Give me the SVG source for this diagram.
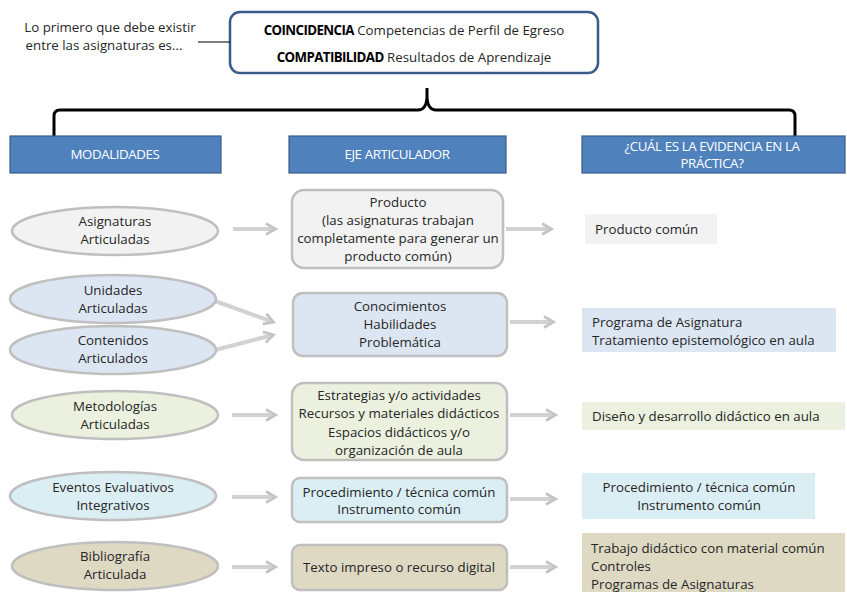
<svg xmlns="http://www.w3.org/2000/svg" width="847" height="592" viewBox="0 0 847 592">
<style>
text{font-family:"Open Sans","Liberation Sans",sans-serif;font-size:13.3px;fill:#262626}
.c{text-anchor:middle}
.h{fill:#4F81BD;stroke:#385D8A;stroke-width:1.2}
.ht{fill:#fff;font-size:13.3px;text-anchor:middle}
.e{stroke:#BFBFBF;stroke-width:2.5}
.b{stroke:#BFBFBF;stroke-width:2.5}
.g1{fill:#F2F2F2}.g2{fill:#DCE6F2}.g3{fill:#EBF1DE}.g4{fill:#DBEEF4}.g5{fill:#DDD9C3}
</style>
<defs>
<marker id="m" viewBox="0 0 12 12" refX="10" refY="6" markerWidth="12" markerHeight="12" markerUnits="userSpaceOnUse" orient="auto" overflow="visible">
<path d="M1,0.5 L10.5,6 L1,11.5" fill="none" stroke="#C4C4C4" stroke-width="2.8" stroke-linejoin="miter"/>
</marker>
</defs>
<g id="intro">
<text x="110" y="32" class="c">Lo primero que debe existir</text>
<text x="104" y="50" class="c">entre las asignaturas es...</text>
</g>
<g id="top">
<rect x="230" y="12" width="368" height="61" rx="10" fill="#fff" stroke="#385D8A" stroke-width="2.5"/>
<text x="414" y="35" class="c"><tspan font-weight="bold" fill="#000" letter-spacing="-0.6">COINCIDENCIA</tspan> Competencias de Perfil de Egreso</text>
<text x="414" y="62" class="c"><tspan font-weight="bold" fill="#000" letter-spacing="-0.6">COMPATIBILIDAD</tspan> Resultados de Aprendizaje</text>
</g>
<g id="connectors">
<path d="M198,42 H230" stroke="#000" stroke-width="1"/>
<path d="M54,136 V116 Q54,110 60,110 H418 Q426,110 427,98 V88 V98 Q428,110 436,110 H789 Q795,110 795,116 V136" fill="none" stroke="#000" stroke-width="3"/>
<g stroke="#D2D2D2" stroke-width="4" fill="none">
<path d="M233,229 H275" marker-end="url(#m)"/>
<path d="M506,229 H551" marker-end="url(#m)"/>
<path d="M215,301 L273,322" marker-end="url(#m)"/>
<path d="M215,350 L273,335" marker-end="url(#m)"/>
<path d="M510,322 H553" marker-end="url(#m)"/>
<path d="M232,415 H275" marker-end="url(#m)"/>
<path d="M510,415 H555" marker-end="url(#m)"/>
<path d="M232,497 H275" marker-end="url(#m)"/>
<path d="M510,499 H555" marker-end="url(#m)"/>
<path d="M232,567 H275" marker-end="url(#m)"/>
<path d="M510,567 H555" marker-end="url(#m)"/>
</g>
</g>
<g id="h1"><rect x="10" y="136" width="211" height="37" class="h"/><text x="115" y="159" class="ht" letter-spacing="-0.4">MODALIDADES</text></g>
<g id="h2"><rect x="289" y="136" width="217" height="37" class="h"/><text x="397" y="159" class="ht" letter-spacing="-0.4">EJE ARTICULADOR</text></g>
<g id="h3"><rect x="582" y="136" width="263" height="37" class="h"/><text x="712" y="151" class="ht" letter-spacing="-0.4">¿CUÁL ES LA EVIDENCIA EN LA</text><text x="712" y="168" class="ht" letter-spacing="-0.4">PRÁCTICA?</text></g>

<g id="m1"><ellipse cx="115" cy="231" rx="103" ry="24" class="e g1"/><text x="115" y="226" class="c">Asignaturas</text><text x="115" y="244" class="c">Articuladas</text></g>
<g id="a1"><rect x="292" y="190" width="211" height="78" rx="12" class="b g1"/><text x="398" y="207" class="c">Producto</text><text x="398" y="225" class="c">(las asignaturas trabajan</text><text x="398" y="243" class="c">completamente para generar un</text><text x="398" y="261" class="c">producto común)</text></g>
<g id="v1"><rect x="585" y="214" width="132" height="30" class="g1"/><text x="595" y="234">Producto común</text></g>

<g id="m2"><ellipse cx="113" cy="299" rx="103" ry="24" class="e g2"/><text x="113" y="295" class="c">Unidades</text><text x="113" y="313" class="c">Articuladas</text></g>
<g id="m3"><ellipse cx="113" cy="350" rx="103" ry="24" class="e g2"/><text x="113" y="345" class="c">Contenidos</text><text x="113" y="363" class="c">Articulados</text></g>
<g id="a2"><rect x="293" y="293" width="214" height="63" rx="10" class="b g2"/><text x="400" y="311" class="c">Conocimientos</text><text x="400" y="329" class="c">Habilidades</text><text x="400" y="347" class="c">Problemática</text></g>
<g id="v2"><rect x="582" y="308" width="254" height="44" class="g2"/><text x="592" y="327">Programa de Asignatura</text><text x="592" y="345">Tratamiento epistemológico en aula</text></g>

<g id="m4"><ellipse cx="115" cy="415" rx="103" ry="24" class="e g3"/><text x="115" y="411" class="c">Metodologías</text><text x="115" y="429" class="c">Articuladas</text></g>
<g id="a3"><rect x="292" y="383" width="215" height="77" rx="12" class="b g3"/><text x="399" y="400" class="c">Estrategias y/o actividades</text><text x="399" y="418" class="c">Recursos y materiales didácticos</text><text x="399" y="437" class="c">Espacios didácticos y/o</text><text x="399" y="455" class="c">organización de aula</text></g>
<g id="v3"><rect x="582" y="402" width="263" height="28" class="g3"/><text x="592" y="421">Diseño y desarrollo didáctico en aula</text></g>

<g id="m5"><ellipse cx="113" cy="496" rx="103" ry="24" class="e g4"/><text x="113" y="492" class="c">Eventos Evaluativos</text><text x="113" y="510" class="c">Integrativos</text></g>
<g id="a4"><rect x="292" y="478" width="215" height="44" rx="8" class="b g4"/><text x="399" y="497" class="c">Procedimiento / técnica común</text><text x="399" y="514" class="c">Instrumento común</text></g>
<g id="v4"><rect x="582" y="473" width="233" height="46" class="g4"/><text x="699" y="492" class="c">Procedimiento / técnica común</text><text x="699" y="510" class="c">Instrumento común</text></g>

<g id="m6"><ellipse cx="115" cy="566" rx="103" ry="24" class="e g5"/><text x="115" y="561" class="c">Bibliografía</text><text x="115" y="579" class="c">Articulada</text></g>
<g id="a5"><rect x="292" y="545" width="215" height="45" rx="8" class="b g5"/><text x="399" y="572" class="c">Texto impreso o recurso digital</text></g>
<g id="v5"><rect x="582" y="533" width="263" height="60" class="g5"/><text x="591" y="553">Trabajo didáctico con material común</text><text x="591" y="571">Controles</text><text x="591" y="589">Programas de Asignaturas</text></g>
</svg>
